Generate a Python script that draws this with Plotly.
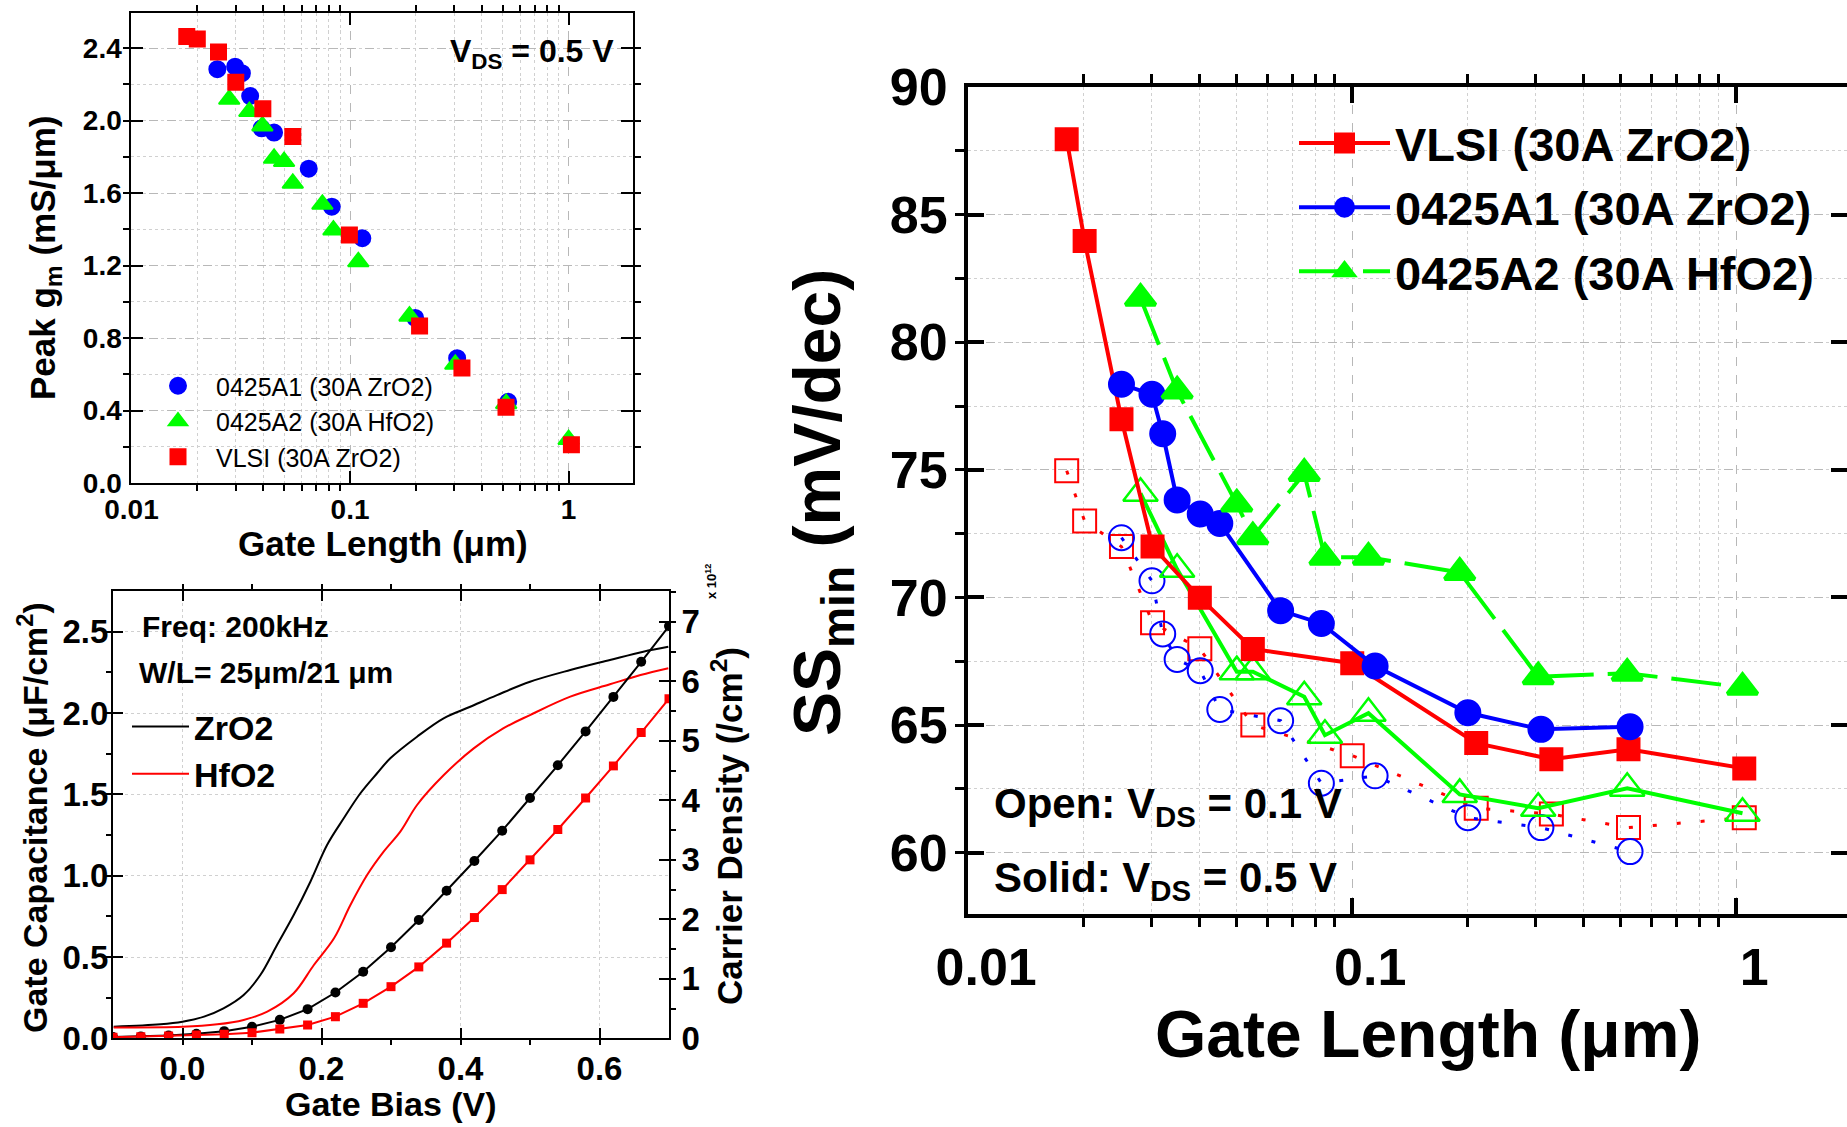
import plotly.graph_objects as go

W, H = 1847, 1127

# ---------------- Top-left: Peak gm vs gate length ----------------
gm_L_A1 = [0.0247, 0.0298, 0.0320, 0.0349, 0.0394, 0.0449, 0.0647, 0.0825, 0.1138, 0.1986, 0.309, 0.529]
gm_A1 = [2.284, 2.298, 2.262, 2.136, 1.958, 1.934, 1.735, 1.525, 1.351, 0.911, 0.689, 0.448]
gm_L_A2 = [0.0280, 0.0346, 0.0397, 0.0449, 0.0499, 0.0547, 0.0747, 0.0839, 0.1091, 0.187, 0.303, 0.518, 1.0]
gm_A2 = [2.118, 2.050, 1.971, 1.792, 1.774, 1.654, 1.538, 1.396, 1.221, 0.921, 0.655, 0.438, 0.24]
gm_L_VLSI = [0.0179, 0.0200, 0.0250, 0.0300, 0.0399, 0.0547, 0.0993, 0.208, 0.325, 0.517, 1.03]
gm_VLSI = [2.464, 2.451, 2.379, 2.212, 2.066, 1.912, 1.369, 0.866, 0.635, 0.418, 0.211]

# ---------------- Bottom-left: C-V and carrier density ----------------
cv_V_Zr = [-0.099, -0.0316, 0.0, 0.031, 0.059, 0.088, 0.112, 0.136, 0.160, 0.184, 0.208, 0.232,
           0.256, 0.280, 0.299, 0.3375, 0.3757, 0.414, 0.4525, 0.5, 0.558, 0.615, 0.663, 0.699]
cv_Zr = [0.071, 0.086, 0.102, 0.133, 0.184, 0.266, 0.389, 0.574, 0.758, 0.963, 1.189, 1.353,
         1.507, 1.630, 1.722, 1.855, 1.968, 2.039, 2.111, 2.193, 2.265, 2.327, 2.378, 2.408]
cv_V_Hf = [-0.099, 0.0, 0.05, 0.088, 0.122, 0.160, 0.189, 0.218, 0.2416, 0.2656, 0.2894, 0.3134,
           0.3375, 0.376, 0.419, 0.462, 0.5, 0.558, 0.615, 0.659, 0.699]
cv_Hf = [0.067, 0.071, 0.086, 0.113, 0.164, 0.277, 0.451, 0.615, 0.820, 1.004, 1.148, 1.271,
         1.435, 1.619, 1.783, 1.907, 1.988, 2.101, 2.177, 2.234, 2.276]
n_V = [-0.10, -0.06, -0.02, 0.02, 0.06, 0.10, 0.14, 0.18, 0.22, 0.26, 0.30, 0.34, 0.38,
       0.42, 0.46, 0.50, 0.54, 0.58, 0.62, 0.66, 0.70]
n_Zr = [0.02, 0.03, 0.045, 0.075, 0.12, 0.195, 0.31, 0.49, 0.77, 1.12, 1.53, 1.99, 2.48,
        2.98, 3.49, 4.04, 4.59, 5.16, 5.74, 6.33, 6.93]
n_Hf = [0.017, 0.028, 0.039, 0.056, 0.067, 0.095, 0.157, 0.224, 0.364, 0.588, 0.868, 1.20, 1.60,
        2.03, 2.50, 3.00, 3.51, 4.04, 4.58, 5.14, 5.71]

# ---------------- Right: SSmin vs gate length ----------------
ss_L_VLSI = [0.01805, 0.0201, 0.02507, 0.0302, 0.0401, 0.0551, 0.1, 0.2103, 0.330, 0.524, 1.049]
ss_VLSI_05 = [87.95, 83.97, 76.98, 71.99, 69.99, 67.98, 67.42, 64.29, 63.66, 64.05, 63.30]
ss_VLSI_01 = [74.96, 72.99, 71.99, 69.01, 67.99, 65.0, 63.8, 61.74, 61.51, 60.98, 61.37]
ss_L_A1 = [0.02507, 0.0301, 0.0321, 0.0350, 0.0402, 0.0452, 0.0651, 0.0831, 0.1147, 0.200, 0.310, 0.529]
ss_A1_05 = [78.35, 77.96, 76.41, 73.82, 73.27, 72.9, 69.48, 68.98, 67.31, 65.48, 64.83, 64.93]
ss_A1_01 = [72.34, 70.65, 68.57, 67.57, 67.13, 65.61, 65.17, 62.72, 63.01, 61.37, 60.98, 60.04]
ss_L_A2 = [0.0281, 0.0350, 0.05005, 0.0551, 0.075, 0.0849, 0.1102, 0.1905, 0.305, 0.520, 1.038]
ss_A2_05 = [81.72, 78.09, 73.66, 72.38, 74.86, 71.57, 71.57, 70.98, 66.89, 67.03, 66.48]
ss_A2_01 = [74.08, 71.1, 67.09, 67.09, 66.11, 64.6, 65.46, 62.28, 61.74, 62.52, 61.54]

log_major = [0.01, 0.1, 1]
log_major_text = ["0.01", "0.1", "1"]
log_minor = [k * 10.0 ** e for e in (-2, -1, 0) for k in range(2, 10)]

RED, BLUE, GREEN, BLACK = "#FF0000", "#0000FF", "#00FF00", "#000000"
FONT = "Arial, Liberation Sans, sans-serif"

fig = go.Figure()

# ---- top-left traces
fig.add_trace(go.Scatter(x=gm_L_A1, y=gm_A1, mode="markers", name="0425A1 (30A ZrO2)",
                         marker=dict(symbol="circle", size=16, color=BLUE, line=dict(width=2, color=BLUE)),
                         xaxis="x", yaxis="y", legend="legend"))
fig.add_trace(go.Scatter(x=gm_L_A2, y=gm_A2, mode="markers", name="0425A2 (30A HfO2)",
                         marker=dict(symbol="triangle-up", size=18, color=GREEN, line=dict(width=2, color=GREEN)),
                         xaxis="x", yaxis="y", legend="legend"))
fig.add_trace(go.Scatter(x=gm_L_VLSI, y=gm_VLSI, mode="markers", name="VLSI (30A ZrO2)",
                         marker=dict(symbol="square", size=15, color=RED, line=dict(width=2, color=RED)),
                         xaxis="x", yaxis="y", legend="legend"))

# ---- bottom-left traces
fig.add_trace(go.Scatter(x=cv_V_Zr, y=cv_Zr, mode="lines", name="ZrO2", line=dict(color=BLACK, width=2, shape="spline"),
                         xaxis="x2", yaxis="y2", legend="legend2"))
fig.add_trace(go.Scatter(x=cv_V_Hf, y=cv_Hf, mode="lines", name="HfO2", line=dict(color=RED, width=2, shape="spline"),
                         xaxis="x2", yaxis="y2", legend="legend2"))
fig.add_trace(go.Scatter(x=n_V, y=n_Zr, mode="lines+markers", showlegend=False,
                         line=dict(color=BLACK, width=2), marker=dict(symbol="circle", size=10, color=BLACK),
                         xaxis="x2", yaxis="y3"))
fig.add_trace(go.Scatter(x=n_V, y=n_Hf, mode="lines+markers", showlegend=False,
                         line=dict(color=RED, width=2), marker=dict(symbol="square", size=9, color=RED),
                         xaxis="x2", yaxis="y3"))

# ---- right panel: open (Vds=0.1) first
fig.add_trace(go.Scatter(x=ss_L_VLSI, y=ss_VLSI_01, mode="lines+markers", showlegend=False,
                         line=dict(color=RED, width=3, dash="4px,20px"),
                         marker=dict(symbol="square-open", size=23, color=RED, line=dict(width=2, color=RED)),
                         xaxis="x3", yaxis="y4"))
fig.add_trace(go.Scatter(x=ss_L_A1, y=ss_A1_01, mode="lines+markers", showlegend=False,
                         line=dict(color=BLUE, width=3, dash="4px,20px"),
                         marker=dict(symbol="circle-open", size=25, color=BLUE, line=dict(width=2, color=BLUE)),
                         xaxis="x3", yaxis="y4"))
fig.add_trace(go.Scatter(x=ss_L_A2, y=ss_A2_01, mode="lines+markers", showlegend=False,
                         line=dict(color=GREEN, width=4),
                         marker=dict(symbol="triangle-up-open", size=30, color=GREEN, line=dict(width=2.5, color=GREEN)),
                         xaxis="x3", yaxis="y4"))
fig.add_trace(go.Scatter(x=ss_L_VLSI, y=ss_VLSI_05, mode="lines+markers", name="VLSI (30A ZrO2)",
                         line=dict(color=RED, width=4),
                         marker=dict(symbol="square", size=19, color=RED, line=dict(width=5, color=RED)),
                         xaxis="x3", yaxis="y4", legend="legend3"))
fig.add_trace(go.Scatter(x=ss_L_A1, y=ss_A1_05, mode="lines+markers", name="0425A1 (30A ZrO2)",
                         line=dict(color=BLUE, width=4),
                         marker=dict(symbol="circle", size=22, color=BLUE, line=dict(width=5, color=BLUE)),
                         xaxis="x3", yaxis="y4", legend="legend3"))
fig.add_trace(go.Scatter(x=ss_L_A2, y=ss_A2_05, mode="lines+markers", name="0425A2 (30A HfO2)",
                         line=dict(color=GREEN, width=4, dash="50px,14px"),
                         marker=dict(symbol="triangle-up", size=26, color=GREEN, line=dict(width=4, color=GREEN)),
                         xaxis="x3", yaxis="y4", legend="legend3"))

def px(x):
    return x / W

def py(y):
    return 1 - y / H

grid_major = dict(showgrid=True, gridcolor="#b8b8b8", griddash="dash", gridwidth=1.3)

def ax_common(lw, tl, tw, fs):
    return dict(showline=True, linecolor=BLACK, linewidth=lw, mirror="ticks", ticks="inside",
                ticklen=tl, tickwidth=tw, tickcolor=BLACK, zeroline=False, automargin=False,
                tickfont=dict(family=FONT, size=fs, color=BLACK, weight="bold"))

# top-left axes
fig.update_layout(
    xaxis=dict(domain=[px(131.4), px(633)], anchor="y", type="log", range=[-2.0005, 0.2946],
               tickmode="array", tickvals=log_major, ticktext=log_major_text, ticklabelstandoff=0,
               minor=dict(tickmode="array", tickvals=log_minor, ticklen=6, tickwidth=1.5, tickcolor=BLACK,
                          showgrid=True, gridcolor="#d0d0d0", griddash="dot", gridwidth=1),
               **grid_major, **ax_common(2, 12, 2, 28)),
    yaxis=dict(domain=[py(483), py(12.5)], anchor="x", range=[0, 2.597], dtick=0.4, tick0=0,
               tickformat=".1f", ticklabelstandoff=2,
               minor=dict(dtick=0.2, ticklen=6, tickwidth=1.5, tickcolor=BLACK,
                          showgrid=True, gridcolor="#d0d0d0", griddash="dot", gridwidth=1),
               **grid_major, **ax_common(2, 12, 2, 28)),
)
# bottom-left axes
fig.update_layout(
    xaxis2=dict(domain=[px(113), px(669)], anchor="y2", range=[-0.1, 0.7], dtick=0.2, tick0=0,
                tickformat=".1f", ticklabelstandoff=0,
                showgrid=True, gridcolor="#d0d0d0", griddash="dot", gridwidth=1,
                minor=dict(dtick=0.1, ticklen=5, tickwidth=1.5, tickcolor=BLACK),
                **ax_common(2, 10, 2, 33)),
    yaxis2=dict(domain=[py(1038.3), py(591)], anchor="x2", range=[0, 2.751], dtick=0.5, tick0=0,
                tickformat=".1f", ticklabelstandoff=-4,
                showgrid=True, gridcolor="#d0d0d0", griddash="dot", gridwidth=1,
                minor=dict(dtick=0.25, ticklen=5, tickwidth=1.5, tickcolor=BLACK),
                **{**ax_common(2, 10, 2, 33), "mirror": False}),
    yaxis3=dict(overlaying="y2", side="right", anchor="x2", range=[0, 7.52], dtick=1, tick0=0,
                ticklabelstandoff=4, showgrid=False,
                minor=dict(dtick=0.5, ticklen=5, tickwidth=1.5, tickcolor=BLACK),
                **{**ax_common(2, 10, 2, 33), "mirror": False}),
)
# right axes
fig.update_layout(
    xaxis3=dict(domain=[px(968), 1.0], anchor="y4", type="log", range=[-2.0005, 0.2883],
                tickmode="array", tickvals=log_major, ticktext=log_major_text,
                ticklabelstandoff=5, ticklabelshift=18,
                minor=dict(tickmode="array", tickvals=log_minor, ticklen=9, tickwidth=3, tickcolor=BLACK,
                           showgrid=True, gridcolor="#d0d0d0", griddash="dot", gridwidth=1.3),
                **grid_major, **ax_common(4, 16, 4, 52)),
    yaxis4=dict(domain=[py(913.6), py(87)], anchor="x3", range=[57.61, 90], dtick=5, tick0=60,
                ticklabelstandoff=6,
                minor=dict(dtick=2.5, ticklen=9, tickwidth=3, tickcolor=BLACK,
                           showgrid=True, gridcolor="#d0d0d0", griddash="dot", gridwidth=1.3),
                **grid_major, **ax_common(4, 16, 4, 52)),
)

def ann(text, x, y, size, angle=0, xanchor="center", yanchor="middle", weight="bold"):
    return dict(text=text, x=px(x), y=py(y), xref="paper", yref="paper", showarrow=False,
                textangle=angle, xanchor=xanchor, yanchor=yanchor,
                font=dict(family=FONT, size=size, color=BLACK, weight=weight))

annotations = [
    # top-left
    ann("Peak g<sub>m</sub> (mS/\u03bcm)", 45, 258, 35, angle=-90),
    ann("Gate Length (\u03bcm)", 383, 544, 35),
    ann("V<sub>DS</sub> = 0.5 V", 532, 54, 32),
    # bottom-left
    ann("Gate Capacitance (\u03bcF/cm<sup>2</sup>)", 32, 818, 34, angle=-90),
    ann("Gate Bias (V)", 391, 1104, 34),
    ann("Carrier Density (/cm<sup>2</sup>)", 727, 826, 35, angle=-90),
    ann("x 10<sup>12</sup>", 711, 582, 13, angle=-90),
    ann("Freq: 200kHz", 140, 626, 30, xanchor="left"),
    ann("W/L= 25\u03bcm/21 \u03bcm", 137, 672, 30, xanchor="left"),
    # right
    ann("SS<sub>min</sub> (mV/dec)", 822, 503, 66, angle=-90),
    ann("Gate Length (\u03bcm)", 1428, 1034, 66),
    ann("Open: V<sub>DS</sub> = 0.1 V", 992, 806, 42, xanchor="left"),
    ann("Solid: V<sub>DS</sub> = 0.5 V", 992, 880, 42, xanchor="left"),
]

fig.update_layout(
    width=W, height=H, margin=dict(l=0, r=0, t=0, b=0, pad=0, autoexpand=False),
    paper_bgcolor="white", plot_bgcolor="white",
    annotations=annotations,
    legend=dict(x=px(140), y=py(363), xanchor="left", yanchor="top", bgcolor="rgba(0,0,0,0)",
                itemwidth=66, tracegroupgap=0,
                font=dict(family=FONT, size=25, color=BLACK)),
    legend2=dict(x=px(127), y=py(698), xanchor="left", yanchor="top", bgcolor="rgba(0,0,0,0)",
                 itemwidth=57, font=dict(family=FONT, size=34, color=BLACK, weight="bold")),
    legend3=dict(x=px(1294), y=py(106), xanchor="left", yanchor="top", bgcolor="rgba(0,0,0,0)",
                 itemwidth=91, font=dict(family=FONT, size=47, color=BLACK, weight="bold")),
)

fig.write_html("out.html",
               config={"displayModeBar": False},
               post_script="document.body.style.margin='0';document.body.style.padding='0';"
                           "document.body.style.overflow='hidden';")
